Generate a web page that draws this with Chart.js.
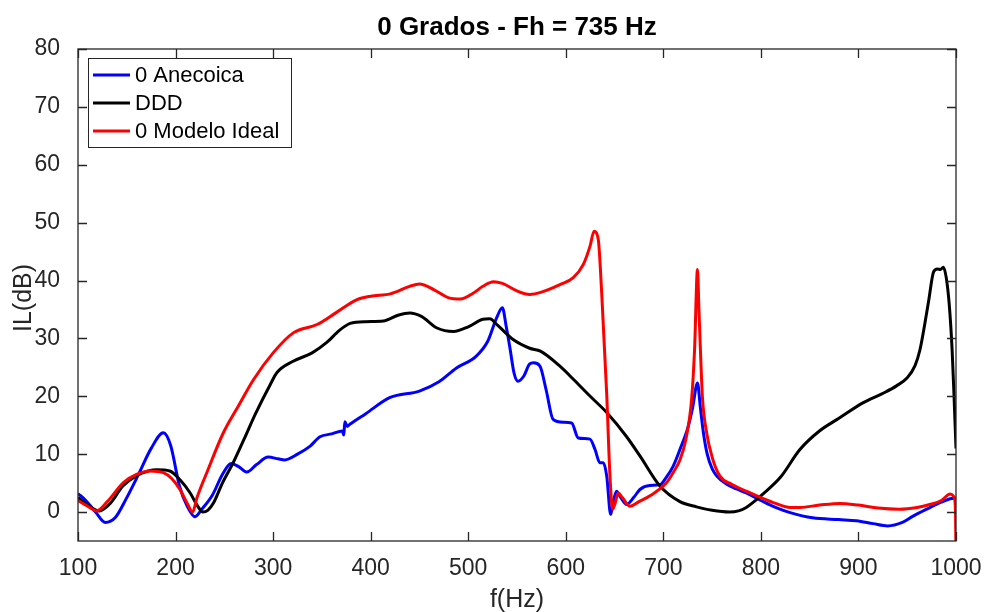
<!DOCTYPE html>
<html>
<head>
<meta charset="utf-8">
<script src="https://cdn.jsdelivr.net/npm/chart.js@4.4.1/dist/chart.umd.min.js"></script>
<style>
  html, body { margin: 0; padding: 0; background: #fff; }
  canvas { display: block; }
</style>
</head>
<body>
<canvas id="myChart" width="984" height="612"></canvas>
<script>
// datos
const freqAnecoica = [100, 108, 118, 128, 138, 150, 162, 175, 187.5, 195, 204, 212, 220, 227, 238, 248, 257, 265, 273, 283, 295, 305, 312, 325, 338, 348, 360, 371, 372.5, 373.5, 376, 379, 395, 420, 450, 470, 488, 508, 520, 529, 535, 539, 543, 547, 551, 557, 563, 567, 573.6, 580, 587, 597.5, 606, 612.8, 624.8, 630, 635, 638.5, 642, 646, 649, 652, 656, 662.4, 670, 676, 686, 696.5, 703, 710, 717, 725, 730, 735, 738, 741, 745, 750, 755, 765, 775, 785, 800, 815, 830, 853, 880, 898, 915, 930, 945, 956, 970, 985, 994, 1000];
const ilAnecoica = [3.2, 2.0, 0.0, -1.8, -1.0, 2.5, 6.5, 11.0, 13.7, 11.5, 4.5, 1.0, -0.8, 0.5, 3.0, 6.5, 8.4, 7.8, 6.9, 8.2, 9.5, 9.2, 9.0, 10.0, 11.4, 13.0, 13.5, 14.0, 13.3, 15.6, 14.8, 15.2, 17.0, 19.8, 20.9, 22.5, 24.9, 26.9, 29.5, 33.5, 35.3, 32.0, 28.1, 24.0, 22.6, 23.5, 25.6, 25.8, 25.2, 21.0, 16.0, 15.5, 15.4, 12.8, 12.6, 10.8, 8.5, 8.5, 6.2, -0.4, 2.0, 3.6, 2.6, 1.3, 2.6, 3.9, 4.6, 4.7, 6.0, 7.9, 10.8, 14.5, 18.0, 22.3, 18.0, 13.8, 10.0, 7.5, 6.2, 4.8, 4.0, 3.3, 2.0, 0.8, -0.1, -1.0, -1.3, -1.5, -2.0, -2.4, -1.8, -0.7, 0.5, 1.7, 2.3, 2.4];

const freqDDD = [100, 110, 122, 133, 146, 160, 172, 181, 194, 205, 215, 222, 228, 233, 239, 248, 259, 270, 282, 297, 304, 320, 340, 355, 368, 379, 395, 413, 428, 440, 452, 468, 485, 500, 515, 522, 530, 546, 563, 574, 594, 608, 625, 642, 662, 676, 696.5, 717, 734, 750, 768, 777, 785, 793, 802, 820, 840, 860, 880, 905, 925, 939, 950, 958, 963, 968, 972, 977, 981, 984, 987, 990, 993, 996, 998, 1000];
const ilDDD = [2.5, 1.2, 0.2, 1.5, 4.5, 6.3, 7.1, 7.3, 7.1, 5.5, 3.3, 1.2, 0.0, 0.3, 1.6, 5.0, 8.5, 12.5, 17.0, 22.0, 24.1, 26.0, 27.5, 29.3, 31.4, 32.6, 32.9, 33.0, 34.0, 34.4, 33.8, 31.8, 31.2, 32.0, 33.3, 33.4, 32.3, 29.8, 28.3, 27.8, 25.2, 22.9, 20.0, 17.2, 13.1, 9.7, 4.5, 1.8, 0.9, 0.3, 0.0, 0.2, 0.8, 1.8, 3.1, 6.0, 10.8, 14.0, 16.2, 18.9, 20.5, 21.8, 23.2, 25.3, 28.0, 32.5, 36.5, 41.5, 42.0, 41.9, 42.3, 40.5, 36.0, 28.1, 20.0, 11.0];

const freqIdeal = [100, 110, 119, 130, 146.5, 160, 174, 187.5, 196, 204.5, 212, 217.5, 222, 232, 249, 265, 280, 300, 321, 345, 365, 386, 400, 420, 440, 450, 465, 480, 492, 505, 515, 526, 535, 550, 563, 575, 594, 607.7, 618, 624.8, 629, 633.3, 636.8, 641.9, 645.3, 648, 650.5, 653.8, 658, 665.8, 675, 686.3, 703.4, 710, 717, 723, 729, 732, 735, 736.5, 738, 740, 744.4, 750, 758, 770, 785, 800, 815, 830, 840, 860, 881, 900, 920, 942, 960, 973, 985, 994, 998, 999.5, 1000];
const ilIdeal = [2.0, 1.0, 0.2, 1.8, 5.1, 6.5, 7.1, 6.8, 5.8, 3.9, 1.5, 0.0, 2.5, 6.8, 13.7, 18.5, 22.9, 27.5, 31.0, 32.4, 34.5, 36.7, 37.3, 37.7, 39.0, 39.4, 38.4, 37.0, 36.8, 37.8, 39.0, 39.8, 39.5, 38.2, 37.6, 38.0, 39.3, 40.5, 42.8, 45.9, 48.5, 47.1, 37.9, 20.6, 6.2, 0.5, 1.5, 3.3, 2.5, 1.0, 1.8, 2.8, 5.1, 6.8, 9.0, 12.5, 19.5, 28.0, 41.9, 35.0, 28.1, 20.0, 13.7, 9.5, 6.2, 4.8, 3.6, 2.5, 1.5, 0.8, 0.8, 1.2, 1.5, 1.2, 0.7, 0.5, 0.8, 1.3, 2.0, 3.1, 2.6, 0.0, -8];

const xTicks = [100, 200, 300, 400, 500, 600, 700, 800, 900, 1000];
const yTicks = [0, 10, 20, 30, 40, 50, 60, 70, 80];
const seriesNames = ['0 Anecoica', 'DDD', '0 Modelo Ideal'];
const seriesColors = ['#0000ff', '#000000', '#ff0000'];

const axisColor = '#262626';
const fontFam = '"Liberation Sans", Helvetica, Arial, sans-serif';

function toPoints(xs, ys) {
  return xs.map((x, i) => ({ x: x, y: ys[i] }));
}

// caja, ticks hacia adentro, leyenda y titulos (estilo MATLAB)
const matlabBox = {
  id: 'matlabBox',
  afterDraw(chart) {
    const { ctx, chartArea: a, scales } = chart;
    const tl = 9;
    ctx.save();
    ctx.strokeStyle = axisColor;
    ctx.lineWidth = 1.3;
    ctx.strokeRect(a.left, a.top, a.right - a.left, a.bottom - a.top);
    ctx.beginPath();
    xTicks.forEach(v => {
      const px = Math.round(scales.x.getPixelForValue(v)) + 0.5;
      ctx.moveTo(px, a.bottom); ctx.lineTo(px, a.bottom - tl);
      ctx.moveTo(px, a.top); ctx.lineTo(px, a.top + tl);
    });
    yTicks.forEach(v => {
      const py = Math.round(scales.y.getPixelForValue(v)) + 0.5;
      ctx.moveTo(a.left, py); ctx.lineTo(a.left + tl, py);
      ctx.moveTo(a.right, py); ctx.lineTo(a.right - tl, py);
    });
    ctx.stroke();

    // titulo
    ctx.fillStyle = '#000';
    ctx.font = 'bold 26px ' + fontFam;
    ctx.textAlign = 'center';
    ctx.textBaseline = 'middle';
    ctx.fillText('0 Grados - Fh = 735 Hz', (a.left + a.right) / 2, 28);

    // etiquetas de ejes
    ctx.fillStyle = axisColor;
    ctx.font = '25px ' + fontFam;
    ctx.fillText('f(Hz)', (a.left + a.right) / 2, 600);
    ctx.save();
    ctx.translate(24, 298);
    ctx.rotate(-Math.PI / 2);
    ctx.fillText('IL(dB)', 0, 0);
    ctx.restore();

    // leyenda
    const lx = 88, ly = 58, lw = 203, lh = 89;
    ctx.fillStyle = '#fff';
    ctx.fillRect(lx, ly, lw, lh);
    ctx.strokeStyle = axisColor;
    ctx.lineWidth = 1;
    ctx.strokeRect(lx + 0.5, ly + 0.5, lw, lh);
    ctx.font = '22px ' + fontFam;
    ctx.textAlign = 'left';
    seriesNames.forEach((name, i) => {
      const y = 75 + i * 28;
      ctx.strokeStyle = seriesColors[i];
      ctx.lineWidth = 3;
      ctx.beginPath();
      ctx.moveTo(93, y); ctx.lineTo(130, y);
      ctx.stroke();
      ctx.fillStyle = '#000';
      ctx.fillText(name, 135, y + 1);
    });
    ctx.restore();
  }
};

new Chart(document.getElementById('myChart'), {
  type: 'line',
  data: {
    datasets: [
      { label: seriesNames[0], data: toPoints(freqAnecoica, ilAnecoica), borderColor: seriesColors[0], order: 3 },
      { label: seriesNames[1], data: toPoints(freqDDD, ilDDD), borderColor: seriesColors[1], order: 2 },
      { label: seriesNames[2], data: toPoints(freqIdeal, ilIdeal), borderColor: seriesColors[2], order: 1 }
    ]
  },
  options: {
    responsive: false,
    animation: false,
    layout: { padding: { top: 49, right: 28, left: 0, bottom: 0 } },
    elements: {
      point: { radius: 0 },
      line: { borderWidth: 3, cubicInterpolationMode: 'monotone', fill: false }
    },
    plugins: {
      legend: { display: false },
      title: { display: false },
      tooltip: { enabled: false }
    },
    scales: {
      x: {
        type: 'linear',
        min: 100, max: 1000,
        grid: { display: false },
        border: { display: false },
        afterBuildTicks: (s) => { s.ticks = xTicks.map(v => ({ value: v })); },
        afterFit: (s) => { s.height = 71; s.paddingLeft = 0; s.paddingRight = 0; },
        ticks: { color: axisColor, font: { family: fontFam, size: 23 }, padding: 6, maxRotation: 0,
                 callback: (v) => String(v) }
      },
      y: {
        min: -5, max: 80,
        grid: { display: false },
        border: { display: false },
        afterBuildTicks: (s) => { s.ticks = yTicks.map(v => ({ value: v })); },
        afterFit: (s) => { s.width = 78; s.paddingTop = 0; s.paddingBottom = 0; },
        ticks: { color: axisColor, font: { family: fontFam, size: 23 }, padding: 10 }
      }
    }
  },
  plugins: [matlabBox]
});
</script>
</body>
</html>
